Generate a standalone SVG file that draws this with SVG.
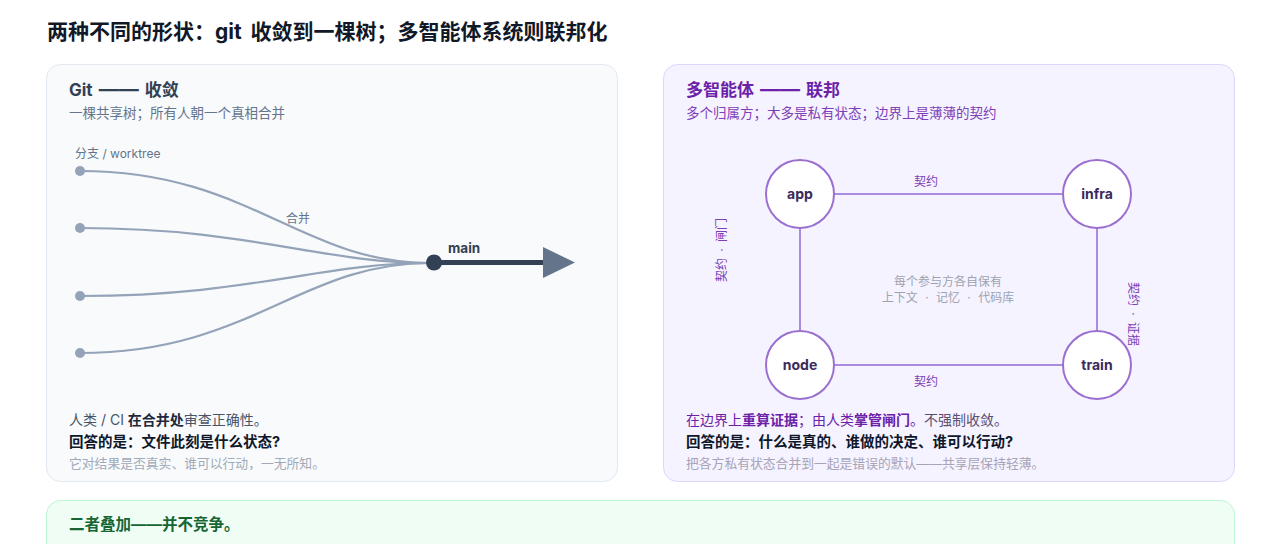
<svg xmlns="http://www.w3.org/2000/svg" width="1280" height="544" viewBox="0 0 1280 544">
<defs>
<style>
text{font-family:Inter,"Noto Sans CJK SC",sans-serif}
.title{font-size:21px;font-weight:700;fill:#111827}
.h{font-size:17px;font-weight:700}
.dash{font-size:20px}
.sub{font-size:13.5px}
.body{font-size:14px}
.q{font-size:14.5px;font-weight:700;fill:#0f172a}
.note{font-size:12.8px}
.sm{font-size:12px}
.b{font-weight:700}
.node circle{fill:#ffffff;stroke:#9b6fd0;stroke-width:2}
.node text{font-size:14px;font-weight:700;fill:#3b2a5c;text-anchor:middle}
.edge{stroke:#a98be0;stroke-width:2;fill:none}
.branch{stroke:#94a3b8;stroke-width:2.2;fill:none}
.elabel{font-size:12px;fill:#7e3fb8;text-anchor:middle}
</style>
</defs>
<rect width="1280" height="544" fill="#ffffff"/>
<text class="title" x="47" y="39" word-spacing="4">两种不同的形状：git 收敛到一棵树；多智能体系统则联邦化</text>

<g id="git-panel">
<rect x="46.5" y="64.5" width="571" height="417" rx="14" fill="#f8fafc" stroke="#e2e8f0"/>
<text class="h" x="69" y="96" fill="#334155" word-spacing="2">Git <tspan class="dash">——</tspan> 收敛</text>
<text class="sub" x="69" y="118" fill="#64748b">一棵共享树；所有人朝一个真相合并</text>
<text class="sm" x="75" y="158" fill="#64748b" font-size="13">分支 / worktree</text>
<text class="body" x="69" y="425" fill="#475569">人类 / CI <tspan class="b" fill="#1e293b">在合并处</tspan>审查正确性。</text>
<text class="q" x="69" y="447">回答的是：文件此刻是什么状态?</text>
<text class="note" x="69" y="468" fill="#a0aab8">它对结果是否真实、谁可以行动，一无所知。</text>
</g>

<g id="git-graph">
<path class="branch" d="M80,171 C250,171 300,263 430,263"/>
<path class="branch" d="M80,228 C250,228 320,263 430,263"/>
<path class="branch" d="M80,296 C250,296 320,263 430,263"/>
<path class="branch" d="M80,353 C250,353 300,263 430,263"/>
<circle cx="80" cy="171" r="5" fill="#94a3b8"/>
<circle cx="80" cy="228" r="5" fill="#94a3b8"/>
<circle cx="80" cy="296" r="5" fill="#94a3b8"/>
<circle cx="80" cy="353" r="5" fill="#94a3b8"/>
<text class="sm" x="298" y="223" fill="#64748b" text-anchor="middle">合并</text>
<line x1="434" y1="262.5" x2="546" y2="262.5" stroke="#334155" stroke-width="5"/>
<polygon points="543,247 575,262.5 543,278" fill="#64748b"/>
<circle cx="434" cy="262.5" r="8" fill="#334155"/>
<text class="b" x="448" y="253" fill="#334155" font-size="13.5">main</text>
</g>

<g id="fed-panel">
<rect x="663.5" y="64.5" width="571" height="417" rx="14" fill="#f5f3ff" stroke="#ddd6fe"/>
<text class="h" x="686" y="96" fill="#6b21a8" word-spacing="2">多智能体 <tspan class="dash">——</tspan> 联邦</text>
<text class="sub" x="686" y="118" fill="#7e3fb8">多个归属方；大多是私有状态；边界上是薄薄的契约</text>
<text class="body" x="686" y="425" fill="#6b21a8">在边界上<tspan class="b">重算证据</tspan>；由人类<tspan class="b">掌管闸门</tspan>。<tspan fill="#5b4f70">不强制收敛。</tspan></text>
<text class="q" x="686" y="447">回答的是：什么是真的、谁做的决定、谁可以行动?</text>
<text class="note" x="686" y="468" fill="#a8a3b8">把各方私有状态合并到一起是错误的默认——共享层保持轻薄。</text>
</g>

<g id="connectors">
<line class="edge" x1="834" y1="194" x2="1063" y2="194"/>
<line class="edge" x1="834" y1="365" x2="1063" y2="365"/>
<line class="edge" x1="800" y1="228" x2="800" y2="331"/>
<line class="edge" x1="1097" y1="228" x2="1097" y2="331"/>
<text class="elabel" x="926" y="186">契约</text>
<text class="elabel" x="926" y="386">契约</text>
<text class="elabel" transform="translate(726,250) rotate(-90)" word-spacing="3">契约 · 闸门</text>
<text class="elabel" transform="translate(1129,314) rotate(90)" word-spacing="3">契约 · 证据</text>
<text class="sm" x="948" y="286" fill="#9ca3af" text-anchor="middle">每个参与方各自保有</text>
<text class="sm" x="948" y="302" fill="#9ca3af" text-anchor="middle" word-spacing="4">上下文 · 记忆 · 代码库</text>
</g>

<g id="node-app" class="node"><circle cx="800" cy="194" r="34"/><text x="800" y="199">app</text></g>
<g id="node-infra" class="node"><circle cx="1097" cy="194" r="34"/><text x="1097" y="199">infra</text></g>
<g id="node-node" class="node"><circle cx="800" cy="365" r="34"/><text x="800" y="370">node</text></g>
<g id="node-train" class="node"><circle cx="1097" cy="365" r="34"/><text x="1097" y="370">train</text></g>

<g id="summary-panel">
<rect x="46.5" y="500.5" width="1188" height="80" rx="14" fill="#f0fdf4" stroke="#bbf7d0"/>
<text x="69" y="530" font-size="15.5" font-weight="700" fill="#166534">二者叠加——并不竞争。</text>
</g>
</svg>
